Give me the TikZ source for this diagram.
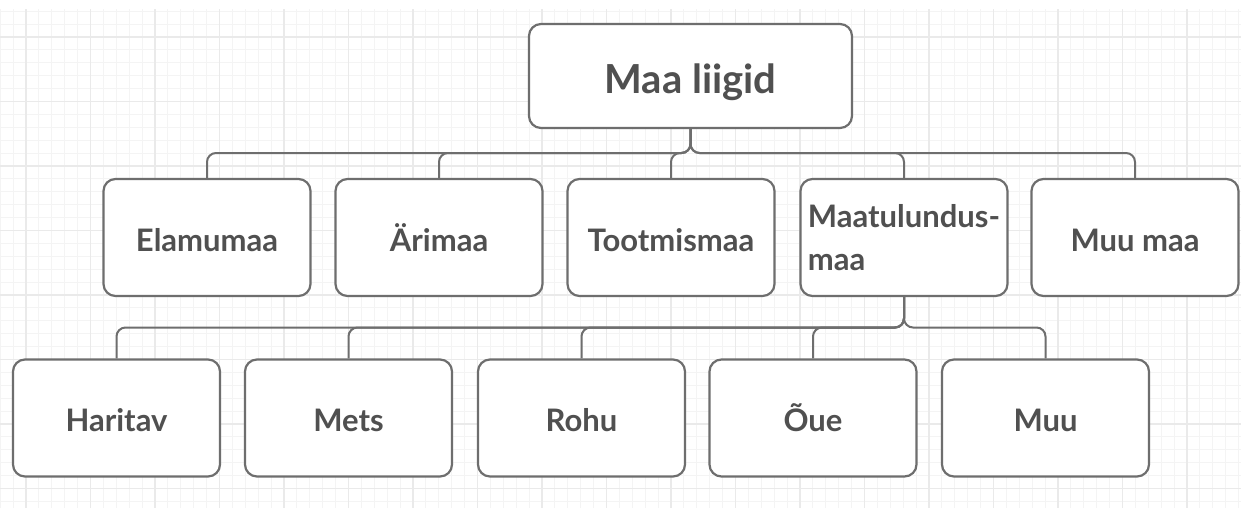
\documentclass[tikz,border=0pt]{standalone}
\usepackage{fontspec}
\setmainfont{Lato}
\definecolor{gridminor}{HTML}{F4F4F4}
\definecolor{gridmajor}{HTML}{EAEAEA}
\definecolor{edge}{HTML}{6E6E6E}
\definecolor{txt}{HTML}{505050}
\begin{document}
\begin{tikzpicture}[x=1pt,y=-1pt,
  box/.style={draw=edge, line width=2.2pt, fill=white, rounded corners=12pt,
    minimum width=207pt, minimum height=117pt, inner sep=0pt, text=txt,
    text height=27pt, text depth=0pt,
    font=\fontsize{31}{43}\selectfont\bfseries},
  rootbox/.style={box, minimum width=323pt, minimum height=104pt,
    text height=34.6pt, text depth=0pt,
    font=\fontsize{40}{48}\selectfont\bfseries},
  conn/.style={draw=edge, line width=2pt, rounded corners=9pt},
  gmin/.style={draw=gridminor, line width=1pt},
  gmaj/.style={draw=gridmajor, line width=1.4pt}]
\useasboundingbox (0,0) rectangle (1241,508);
\fill[white] (0,0) rectangle (1241,508);
% grid
\foreach \i in {-2,...,94} {\draw[gmin] ({26+12.9*\i},9) -- ({26+12.9*\i},508);}
\foreach \j in {-2,...,38} {\draw[gmin] (0,{37+12.9*\j}) -- (1241,{37+12.9*\j});}
\foreach \i in {0,...,18} {\draw[gmaj] ({26+64.5*\i},9) -- ({26+64.5*\i},508);}
\foreach \j in {0,...,7} {\draw[gmaj] (0,{37+64.5*\j}) -- (1241,{37+64.5*\j});}
\fill[white] (0,0) rectangle (1241,9);
% nodes
\node[rootbox] (root) at (690.5,76) {Maa liigid};
\node[box] (ela) at (207,237.5) {Elamumaa};
\node[box] (ari) at (439,237.5) {Ärimaa};
\node[box] (too) at (671,237.5) {Tootmismaa};
\node[box, align=left, text height=, text depth=] (maa) at (904,237.5) {Maatulundus-\\maa};
\node[box] (muumaa) at (1135,237.5) {Muu maa};
\node[box] (har) at (116.5,418) {Haritav};
\node[box] (met) at (348.5,418) {Mets};
\node[box] (roh) at (581.5,418) {Rohu};
\node[box] (oue) at (813,418) {Õue};
\node[box] (muu) at (1045.5,418) {Muu};
% connectors
\foreach \c in {ela,ari,too,maa,muumaa} {
  \draw[conn] (root.south) -- (root.south |- 0,153) -- (\c.north |- 0,153) -- (\c.north);
}
\foreach \c in {har,met,roh,oue,muu} {
  \draw[conn] (maa.south) -- (maa.south |- 0,327.5) -- (\c.north |- 0,327.5) -- (\c.north);
}
\end{tikzpicture}
\end{document}
